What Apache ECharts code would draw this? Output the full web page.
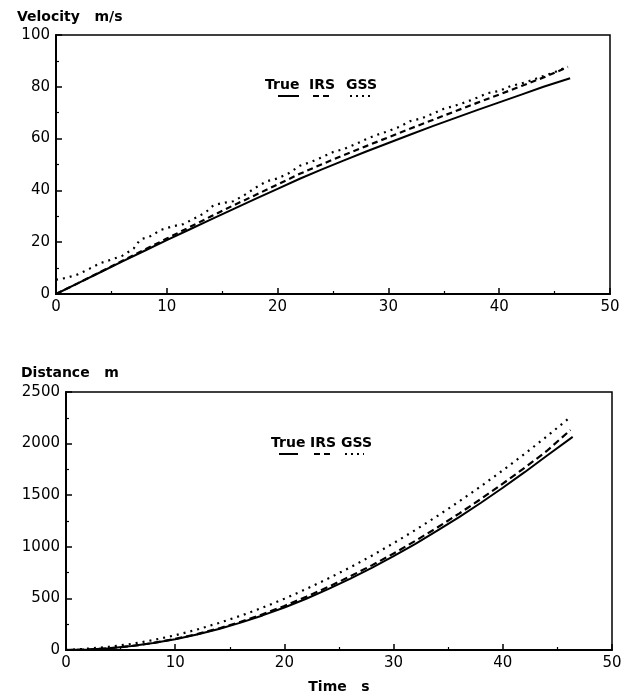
<!doctype html>
<html lang="en">
<head>
    <meta charset="UTF-8">
    <script src="https://cdn.jsdelivr.net/npm/echarts@6/dist/echarts.min.js"></script>
    <title>Velocity and distance</title>
    <style>
        body { margin: 0; background: #fff; }
    </style>
</head>
<body>
<div id="chart" style="width: 632px;height:695px;"></div>
<script>
    // time stamps (s) for the true and IRS traces
    var tTrue = [0, 2, 4, 6, 8, 10, 12, 14, 16, 18, 20, 22, 24, 26, 28, 30, 32, 34, 36, 38, 40, 42, 44, 46.4];
    var tIrs = [0, 2, 4, 6, 8, 10, 12, 14, 16, 18, 20, 22, 24, 26, 28, 30, 32, 34, 36, 38, 40, 42, 44, 46.2];
    // GSS velocity is noisier, so read at finer steps
    var tGss = [0, 1, 2, 3, 4, 5, 6, 7, 7.6, 8.5, 9.5, 10.5, 11.5, 12.5, 13.5, 14.2, 15, 16, 17, 18, 19, 20,
        21, 22, 23, 24, 25, 26, 27, 28, 29, 30, 31, 32, 33, 34, 35, 36, 37, 38, 39, 40, 41, 42, 43, 44, 45, 46.2];

    // velocity m/s
    var velTrue = [0, 4.2, 8.4, 12.6, 16.7, 20.8, 24.8, 28.8, 32.8, 36.7, 40.6, 44.5, 48.1, 51.6, 55.0, 58.3,
        61.6, 64.8, 67.9, 71.0, 74.0, 77.0, 80.0, 83.3];
    var velIrs = [0, 4.2, 8.5, 12.8, 17.1, 21.4, 25.7, 30.0, 34.2, 38.2, 42.3, 46.4, 50.1, 53.7, 57.1, 60.5,
        63.9, 67.2, 70.5, 73.8, 77.0, 80.3, 83.6, 87.6];
    var velGss = [5.5, 6.3, 7.6, 9.7, 11.9, 13.3, 14.8, 17.5, 21, 22.3, 24.8, 26.1, 27, 29.2, 31.5, 34.2, 35.1,
        35.8, 38.2, 41, 43.5, 44.6, 46.6, 49.5, 51, 52.8, 54.8, 56, 57.8, 59.8, 61.5, 62.9, 64.6, 66.8, 67.8,
        69.6, 71.5, 72.7, 74.1, 75.8, 77.6, 78.4, 80.2, 81.3, 82.6, 84.2, 85.6, 87.9];

    // distance m
    var distTrue = [0, 4, 17, 38, 67, 105, 150, 204, 265, 335, 412, 497, 590, 690, 796, 910, 1029, 1156,
        1288, 1427, 1572, 1723, 1880, 2065];
    var distIrs = [0, 4, 17, 38, 68, 107, 154, 209, 273, 346, 427, 515, 610, 712, 820, 935, 1058, 1187,
        1322, 1464, 1612, 1766, 1926, 2132];
    var distGss = [0, 13, 32, 59, 96, 143, 198, 262, 332, 410, 497, 591, 692, 799, 913, 1035, 1163, 1298,
        1439, 1587, 1741, 1901, 2067, 2258];

    var legendWords = ['True', 'IRS', 'GSS'];

    function pairs(xs, ys) {
        return xs.map(function (x, i) { return [x, ys[i]]; });
    }

    var labelStyle = {color: '#000', fontFamily: 'DejaVu Sans', fontSize: 15, margin: 6,
        formatter: function (v) { return String(v); }};
    var titleStyle = {color: '#000', fontFamily: 'DejaVu Sans', fontSize: 14, fontWeight: 'bold'};

    function xAxis(idx, name) {
        return {
            type: 'value', gridIndex: idx, min: 0, max: 50, interval: 10,
            name: name, nameLocation: 'middle', nameGap: 30, nameTextStyle: titleStyle,
            axisLine: {lineStyle: {color: '#000', width: 2}},
            axisTick: {inside: true, length: 6, lineStyle: {color: '#000', width: 1.5}},
            minorTick: {show: true, splitNumber: 2, length: 3, lineStyle: {color: '#000', width: 1.2}},
            splitLine: {show: false},
            axisLabel: labelStyle
        };
    }

    function yAxis(idx, max, interval) {
        return {
            type: 'value', gridIndex: idx, min: 0, max: max, interval: interval,
            axisLine: {show: true, lineStyle: {color: '#000', width: 2}},
            axisTick: {show: true, inside: true, length: 6, lineStyle: {color: '#000', width: 1.5}},
            minorTick: {show: true, splitNumber: 2, length: 3, lineStyle: {color: '#000', width: 1.2}},
            splitLine: {show: false},
            axisLabel: labelStyle
        };
    }

    function line(idx, data, type, name) {
        return {
            name: name, type: 'line', xAxisIndex: idx, yAxisIndex: idx, data: data,
            showSymbol: false, symbol: 'none', animation: false,
            lineStyle: {color: '#000', width: type === 'solid' ? 2 : 2.2, type: type}
        };
    }

    // legend: word with a sample line below it
    function legend(xs, y, under) {
        var els = [];
        legendWords.forEach(function (w, i) {
            els.push({type: 'text', left: xs[i], top: y,
                style: {text: w, fill: '#000', font: 'bold 14px "DejaVu Sans"'}});
        });
        els.push({type: 'line', shape: {x1: under[0][0], y1: y + 18, x2: under[0][1], y2: y + 18},
            style: {stroke: '#000', lineWidth: 2}});
        els.push({type: 'line', shape: {x1: under[1][0], y1: y + 18, x2: under[1][1], y2: y + 18},
            style: {stroke: '#000', lineWidth: 2, lineDash: [6, 4]}});
        els.push({type: 'line', shape: {x1: under[2][0], y1: y + 18, x2: under[2][1], y2: y + 18},
            style: {stroke: '#000', lineWidth: 2, lineDash: [2, 4]}});
        return els;
    }

    var chart = echarts.init(document.getElementById('chart'));
    var option = {
        backgroundColor: '#fff',
        animation: false,
        title: [
            {text: 'Velocity   m/s', left: 12, top: 5, textStyle: titleStyle},
            {text: 'Distance   m', left: 16, top: 361, textStyle: titleStyle}
        ],
        grid: [
            {left: 56, top: 35, width: 554, height: 259, show: true, borderColor: '#000', borderWidth: 1.5},
            {left: 66, top: 392, width: 546, height: 258, show: true, borderColor: '#000', borderWidth: 1.5}
        ],
        xAxis: [xAxis(0, ''), xAxis(1, 'Time   s')],
        yAxis: [yAxis(0, 100, 20), yAxis(1, 2500, 500)],
        series: [
            line(0, pairs(tTrue, velTrue), 'solid', 'True'),
            line(0, pairs(tIrs, velIrs), [6, 4], 'IRS'),
            line(0, pairs(tGss, velGss), [2, 5], 'GSS'),
            line(1, pairs(tTrue, distTrue), 'solid', 'True'),
            line(1, pairs(tIrs, distIrs), [7, 4], 'IRS'),
            line(1, pairs(tIrs, distGss), [2, 5], 'GSS')
        ],
        graphic: legend([265, 309, 346], 78, [[278, 299], [313, 333], [350, 371]])
            .concat(legend([271, 310, 341], 436, [[279, 298], [314, 330], [345, 364]]))
    };
    chart.setOption(option);
</script>
</body>
</html>
